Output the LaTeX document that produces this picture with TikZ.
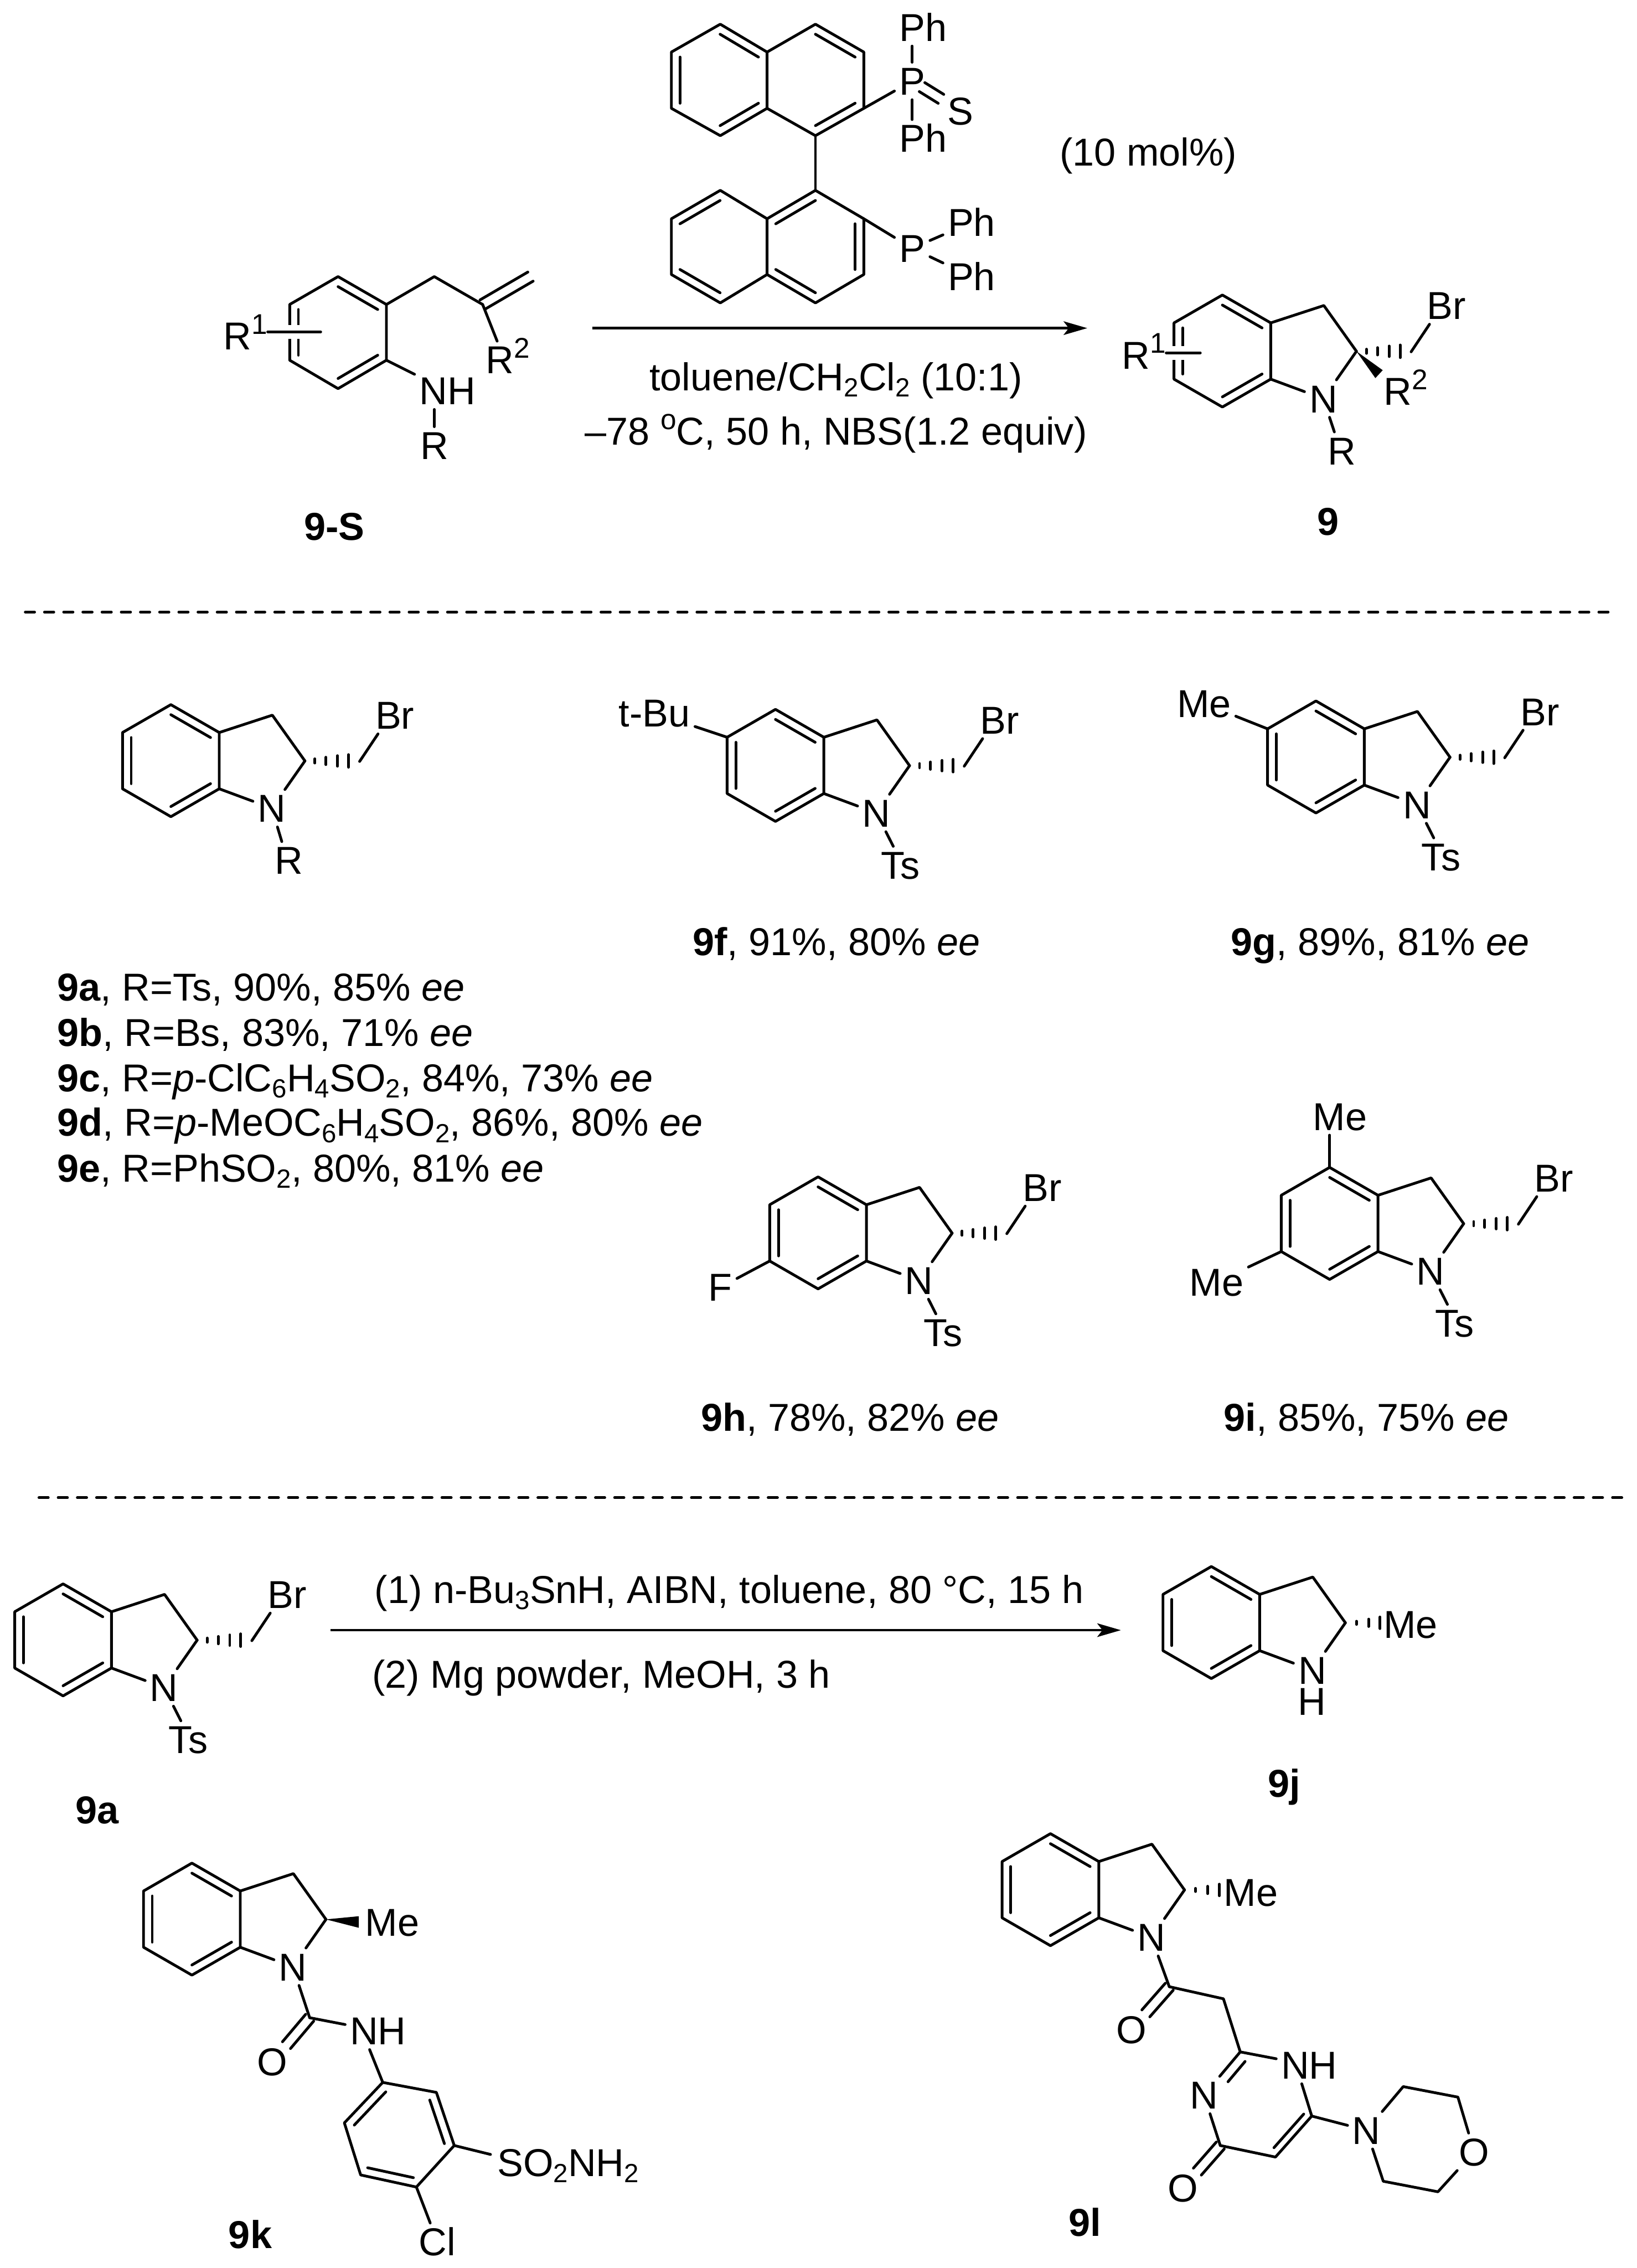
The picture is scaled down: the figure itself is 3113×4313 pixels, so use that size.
\documentclass[tikz,border=0pt]{standalone}
\usepackage{fontspec}
\setmainfont{Liberation Sans}
\usetikzlibrary{calc,arrows.meta}
\newcommand\fsz{\fontsize{17.75}{20}\selectfont}
\newcommand\subs[1]{\raisebox{-2.9pt}{\fontsize{12}{12}\selectfont #1}}
\newcommand\sups[1]{\raisebox{7.2pt}{\fontsize{13}{13}\selectfont #1}}
\tikzset{
  bond/.style={line width=1.25pt,line join=round,line cap=round,black},
  atom/.style={font=\fsz,inner sep=2pt,text height=12.7pt,text depth=0pt,black},
  lbl/.style={font=\fsz,inner sep=0pt,text height=12.7pt,text depth=0pt,black},
  rxn/.style={line width=1.1pt,-{Stealth[length=10.8pt,width=6.2pt,inset=2.4pt]}},
  sep/.style={line width=1.2pt,line cap=round,dash pattern=on 4.3pt off 4.46pt}
}
% inner line of a double bond, towards ring centre
\newcommand\dbl[4][]{\draw[bond,#1] ($(#2)!0.18!(#4)$) -- ($(#3)!0.18!(#4)$);}
% two parallel lines between atoms
\newcommand\dblout[3][]{%
  \draw[bond,#1] ($(#2)!2.4pt!90:(#3)$) -- ($(#3)!2.4pt!-90:(#2)$);
  \draw[bond,#1] ($(#2)!2.4pt!-90:(#3)$) -- ($(#3)!2.4pt!90:(#2)$);}
% four and three tick hashed bonds
\newcommand\hashL[1]{\foreach \dx/\dy in {19/4,40/7,62/10,83/12}{\draw[bond] ($(#1)+(\dx,-\dy)$) -- ($(#1)+(\dx,\dy)$);}}
\newcommand\hashS[1]{\foreach \dx/\dy in {21/3,44/7,66/11}{\draw[bond] ($(#1)+(\dx,-\dy)$) -- ($(#1)+(\dx,\dy)$);}}
% indoline skeleton
\newcommand\indo[3]{%
\begin{scope}[shift={(#2,#3)}]
  \coordinate (#1-J1) at (0,0);
  \coordinate (#1-J2) at (0,107);
  \coordinate (#1-bot) at (-92,160);
  \coordinate (#1-lb) at (-184,107);
  \coordinate (#1-lt) at (-184,0);
  \coordinate (#1-top) at (-92,-53);
  \coordinate (#1-c) at (-92,53);
  \coordinate (#1-C3) at (101,-33);
  \coordinate (#1-C2) at (163,54);
  \node[atom] (#1-N) at (100,144) {N};
  \draw[bond] (#1-J1) -- (#1-top) -- (#1-lt) -- (#1-lb) -- (#1-bot) -- (#1-J2) -- cycle;
  \draw[bond] (#1-J1) -- (#1-C3) -- (#1-C2);
  \draw[bond] (#1-C2) -- (#1-N);
  \draw[bond] (#1-J2) -- (#1-N);
  \dbl{#1-top}{#1-J1}{#1-c}
  \dbl{#1-lt}{#1-lb}{#1-c}
  \dbl{#1-bot}{#1-J2}{#1-c}
\end{scope}}
% CH2Br arm
\newcommand\brarm[1]{%
  \coordinate (#1-CB) at ($(#1-C2)+(95,1)$);
  \node[atom] (#1-Br) at ($(#1-C2)+(171,-87)$) {Br};
  \hashL{#1-C2}
  \draw[bond] ($(#1-CB)+(9,0)$) -- ($(#1-Br.south)+(-32,0)$);}
% N substituent
\newcommand\ntail[3]{%
  \node[atom] (#1-T) at ($(#1-N)+(#3,99)$) {#2};
  \draw[bond] (#1-N) -- ($(#1-T.north)+(-14,0)$);}
\begin{document}
\begin{tikzpicture}[x=0.24pt,y=-0.24pt]
\path[use as bounding box,fill=white] (0,0) rectangle (3113,4313);

%%% catalyst
\coordinate (a1) at (1370,46); \coordinate (a2) at (1459,99); \coordinate (a3) at (1459,206);
\coordinate (a4) at (1370,258); \coordinate (a5) at (1277,206); \coordinate (a6) at (1277,99);
\coordinate (a7) at (1551,46); \coordinate (a8) at (1643,99); \coordinate (a9) at (1643,206);
\coordinate (a10) at (1551,258); \coordinate (ac) at (1368,152); \coordinate (ad) at (1551,152);
\coordinate (b1) at (1370,362); \coordinate (b2) at (1459,416); \coordinate (b3) at (1459,522);
\coordinate (b4) at (1370,576); \coordinate (b5) at (1277,522); \coordinate (b6) at (1277,416);
\coordinate (b7) at (1551,362); \coordinate (b8) at (1643,416); \coordinate (b9) at (1643,522);
\coordinate (b10) at (1551,576); \coordinate (bc) at (1368,469); \coordinate (bd) at (1551,469);
\draw[bond] (a1)--(a2)--(a3)--(a4)--(a5)--(a6)--cycle;
\draw[bond] (a2)--(a7)--(a8)--(a9)--(a10)--(a3);
\draw[bond] (b1)--(b2)--(b3)--(b4)--(b5)--(b6)--cycle;
\draw[bond] (b2)--(b7)--(b8)--(b9)--(b10)--(b3);
\draw[bond] (a10)--(b7);
\dbl{a1}{a2}{ac} \dbl{a6}{a5}{ac} \dbl{a4}{a3}{ac}
\dbl{a7}{a8}{ad} \dbl{a9}{a10}{ad}
\dbl{b1}{b6}{bc} \dbl{b5}{b4}{bc}
\dbl{b2}{b7}{bd} \dbl{b8}{b9}{bd} \dbl{b3}{b10}{bd}
\node[atom] (P1) at (1735,154) {P};
\node[atom] (Ph1) at (1756,52) {Ph};
\node[atom] (Ph2) at (1756,263) {Ph};
\node[atom] (S1) at (1827,211) {S};
\draw[bond] (a9) -- (P1);
\draw[bond] (P1.north) -- ($(Ph1.south)+(-21,0)$);
\draw[bond] (P1.south) -- ($(Ph2.north)+(-21,0)$);
\dblout[shorten <=5.3pt,shorten >=10.5pt]{P1}{S1}
\node[atom] (P2) at (1735,472) {P};
\node[atom] (Ph3) at (1848,423) {Ph};
\node[atom] (Ph4) at (1848,526) {Ph};
\draw[bond] (b8) -- (P2);
\draw[bond] (P2) -- (Ph3);
\draw[bond] (P2) -- (Ph4);
\node[lbl] (mol) at (2184,289) {(10 mol\%)};

%%% 9-S
\coordinate (s1) at (643,526); \coordinate (s2) at (735,579); \coordinate (s3) at (735,685);
\coordinate (s4) at (643,739); \coordinate (s5) at (551,685); \coordinate (s6) at (551,579);
\coordinate (sc) at (643,632);
\coordinate (sC3) at (826,526); \coordinate (sCv) at (918,579); \coordinate (sCt) at (1009,526);
\draw[bond] (s1)--(s2)--(s3)--(s4)--(s5)--(s6)--cycle;
\draw[bond] (s2)--(sC3)--(sCv);
\dblout{sCv}{sCt}
\dbl{s1}{s2}{sc} \dbl{s6}{s5}{sc} \dbl{s4}{s3}{sc}
\node[lbl,anchor=west] (sR1) at (424,639) {R\sups{1}};
\coordinate (sR1e) at (610,631);
\draw[line width=6.4pt,white] (535,631) -- (575,631);
\draw[bond] (sR1.east |- sR1e) -- (sR1e);
\node[lbl,anchor=west] (sR2) at (923,684) {R\sups{2}};
\draw[bond] (sCv) -- ($(sR2.north)+(-20,-8)$);
\node[atom] (sNH) at (851,743) {NH};
\node[atom] (sR) at (826,847) {R};
\draw[bond] (s3) -- (sNH);
\draw[bond] ($(sNH.south)+(-25,0)$) -- (sR.north);
\node[lbl] (l9S) at (636,1001) {\textbf{9-S}};

%%% arrow and conditions
\coordinate (ar1) at (1127,624); \coordinate (ar2) at (2068,624);
\draw[rxn] (ar1) -- (ar2);
\node[lbl] (c1) at (1590,716) {toluene/CH\subs{2}Cl\subs{2} (10:1)};
\node[lbl] (c2) at (1590,820) {–78 \sups{o}C, 50 h, NBS(1.2 equiv)};

%%% 9
\indo{p}{2417}{614}
\brarm{p}
\ntail{p}{R}{35}
\node[lbl,anchor=west] (pR2) at (2631,744) {R\sups{2}};
\coordinate (pw1) at (2630,704); \coordinate (pw2) at (2616,719);
\fill[black] (p-C2) -- (pw1) -- (pw2) -- cycle;
\node[lbl,anchor=west] (pR1) at (2133,675) {R\sups{1}};
\coordinate (pR1e) at (2283,671);
\draw[line width=6.4pt,white] (2222,671) -- (2262,671);
\draw[bond] (pR1.east |- pR1e) -- (pR1e);
\node[lbl] (l9) at (2526,991) {\textbf{9}};

\coordinate (d1s) at (48,1164); \coordinate (d1e) at (3068,1164);
\draw[sep] (d1s) -- (d1e);

%%% 9a generic
\indo{a}{417}{1393}
\brarm{a}
\ntail{a}{R}{33}
%%% 9f
\indo{f}{1567}{1402}
\brarm{f}
\ntail{f}{Ts}{46}
\node[atom] (fB) at (1245,1356) {t-Bu};
\draw[bond] (f-lt) -- (fB);
\node[lbl] (l9f) at (1591,1790) {\textbf{9f}, 91\%, 80\% \textit{ee}};
%%% 9g
\indo{g}{2595}{1386}
\brarm{g}
\ntail{g}{Ts}{46}
\node[atom] (gM) at (2290,1338) {Me};
\draw[bond] (g-lt) -- (gM);
\node[lbl] (l9g) at (2625,1790) {\textbf{9g}, 89\%, 81\% \textit{ee}};
%%% list
\node[lbl,anchor=west] (la) at (108,1877) {\textbf{9a}, R=Ts, 90\%, 85\% \textit{ee}};
\node[lbl,anchor=west] (lb) at (108,1963) {\textbf{9b}, R=Bs, 83\%, 71\% \textit{ee}};
\node[lbl,anchor=west] (lc) at (108,2049) {\textbf{9c}, R=\textit{p}-ClC\subs{6}H\subs{4}SO\subs{2}, 84\%, 73\% \textit{ee}};
\node[lbl,anchor=west] (ld) at (108,2134) {\textbf{9d}, R=\textit{p}-MeOC\subs{6}H\subs{4}SO\subs{2}, 86\%, 80\% \textit{ee}};
\node[lbl,anchor=west] (le) at (108,2221) {\textbf{9e}, R=PhSO\subs{2}, 80\%, 81\% \textit{ee}};
%%% 9h
\indo{h}{1648}{2291}
\brarm{h}
\ntail{h}{Ts}{46}
\node[atom] (hF) at (1370,2448) {F};
\draw[bond] (h-lb) -- (hF);
\node[lbl] (l9h) at (1617,2695) {\textbf{9h}, 78\%, 82\% \textit{ee}};
%%% 9i
\indo{i}{2621}{2273}
\brarm{i}
\ntail{i}{Ts}{46}
\node[atom] (iM1) at (2549,2123) {Me};
\draw[bond] (i-top) -- ($(iM1.south)+(-20,0)$);
\node[atom] (iM2) at (2314,2438) {Me};
\draw[bond] (i-lb) -- (iM2);
\node[lbl] (l9i) at (2599,2695) {\textbf{9i}, 85\%, 75\% \textit{ee}};

\coordinate (d2s) at (74,2848); \coordinate (d2e) at (3096,2848);
\draw[sep] (d2s) -- (d2e);

%%% lower 9a
\indo{b}{212}{3065}
\brarm{b}
\ntail{b}{Ts}{46}
\node[lbl] (l9a) at (185,3441) {\textbf{9a}};
\coordinate (ar3) at (629,3100); \coordinate (ar4) at (2132,3100);
\draw[rxn] (ar3) -- (ar4);
\node[lbl,anchor=west] (c3) at (712,3022) {(1) n-Bu\subs{3}SnH, AIBN, toluene, 80 °C, 15 h};
\node[lbl,anchor=west] (c4) at (707,3184) {(2) Mg powder, MeOH, 3 h};
%%% 9j
\indo{j}{2396}{3032}
\hashS{j-C2}
\node[atom] (jM) at (2683,3089) {Me};
\node[atom] (jH) at (2495,3235) {H};
\node[lbl] (l9j) at (2443,3391) {\textbf{9j}};
%%% 9k
\indo{k}{457}{3596}
\node[atom] (kM) at (746,3655) {Me};
\fill[black] (k-C2) -- ($(kM.west)+(-3,-11)$) -- ($(kM.west)+(-3,11)$) -- cycle;
\coordinate (kC) at (589,3837);
\node[atom] (kO) at (518,3921) {O};
\node[atom] (kNH) at (719,3862) {NH};
\draw[bond] (k-N) -- (kC);
\dblout[shorten >=10pt]{kC}{kO}
\draw[bond] (kC) -- (kNH);
\coordinate (k1) at (728,3960); \coordinate (k2) at (830,3979); \coordinate (k3) at (864,4080);
\coordinate (k4) at (792,4159); \coordinate (k5) at (686,4136); \coordinate (k6) at (655,4037);
\coordinate (kc) at (760,4060);
\draw[bond] (k1)--(k2)--(k3)--(k4)--(k5)--(k6)--cycle;
\dbl{k1}{k6}{kc} \dbl{k2}{k3}{kc} \dbl{k4}{k5}{kc}
\draw[bond] (k1) -- ($(kNH.south)+(-16,0)$);
\node[lbl,anchor=west] (kS) at (945,4112) {SO\subs{2}NH\subs{2}};
\draw[bond] (k3) -- ($(kS.west)+(-12,-15)$);
\node[atom] (kCl) at (832,4263) {Cl};
\draw[bond] (k4) -- (kCl);
\node[lbl] (l9k) at (476,4249) {\textbf{9k}};
%%% 9l
\indo{l}{2090}{3540}
\hashS{l-C2}
\node[atom] (lM) at (2379,3598) {Me};
\coordinate (lC) at (2224,3778);
\node[atom] (lO) at (2152,3860) {O};
\coordinate (lCH) at (2327,3801);
\coordinate (lC2) at (2359,3902);
\node[atom] (lNH) at (2490,3927) {NH};
\coordinate (lC6) at (2495,4024); \coordinate (lC5) at (2426,4102); \coordinate (lC4) at (2321,4080);
\node[atom] (lN3) at (2290,3984) {N};
\node[atom] (lO2) at (2250,4161) {O};
\coordinate (lrc) at (2410,4003);
\draw[bond] (l-N) -- (lC);
\dblout[shorten >=10pt]{lC}{lO}
\draw[bond] (lC) -- (lCH) -- (lC2);
\draw[bond] (lC2) -- (lNH);
\draw[bond] (lC6) -- ($(lNH.south)+(-14,0)$);
\draw[bond] (lC6) -- (lC5) -- (lC4);
\draw[bond] (lC4) -- (lN3);
\draw[bond] (lC2) -- (lN3);
\dbl[shorten >=9pt]{lC2}{lN3}{lrc}
\dbl{lC6}{lC5}{lrc}
\dblout[shorten >=10pt]{lC4}{lO2}
\node[atom] (mN) at (2599,4051) {N};
\node[atom] (mO) at (2804,4092) {O};
\coordinate (m1) at (2669,3968); \coordinate (m2) at (2773,3988);
\coordinate (m3) at (2735,4168); \coordinate (m4) at (2631,4148);
\draw[bond] (lC6) -- (mN);
\draw[bond] (mN) -- (m1) -- (m2) -- (mO);
\draw[bond] (mO) -- (m3) -- (m4) -- (mN);
\node[lbl] (l9l) at (2064,4226) {\textbf{9l}};
\end{tikzpicture}
\end{document}
